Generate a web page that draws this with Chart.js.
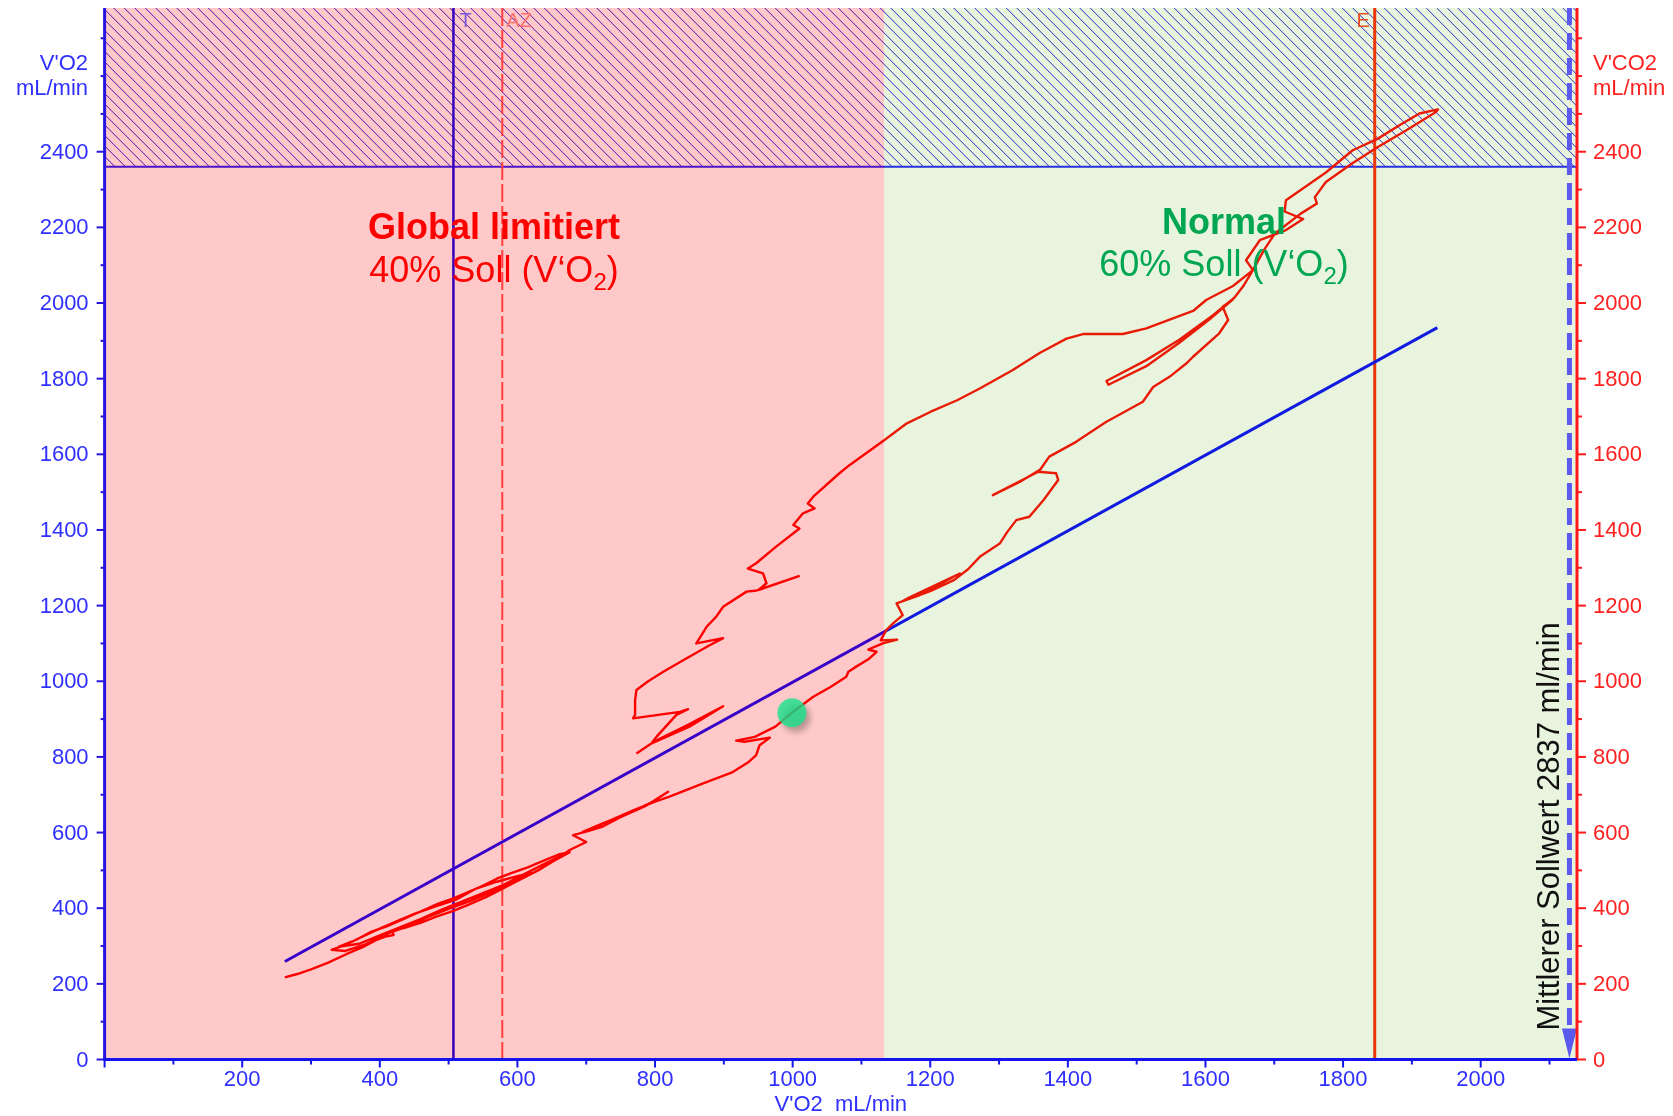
<!DOCTYPE html>
<html>
<head>
<meta charset="utf-8">
<script src="https://cdn.jsdelivr.net/npm/chart.js@4.4.1/dist/chart.umd.min.js"></script>
<style>
  html, body { margin: 0; padding: 0; background: #ffffff; }
  canvas { display: block; }
</style>
</head>
<body>
<canvas id="c" width="1673" height="1116"></canvas>
<script>
const FONT = "'Liberation Sans', Arial, Helvetica, sans-serif";

// Breath-by-breath trace, V'O2 (x) against V'CO2 (y), mL/min
// rest / warm-up band
const warmupVO2  = [262,280,300,325,352,375,395,410,420,418,436,460,482,507,530,555,579,605,630,652,676,
                    660,640,615,590,570,548,525,507,485,460,435,410,388,365,345,330,
                    350,380,410,440,470,500,530,560,590,620,
                    600,570,540,510,480,450,420,390,360,340,
                    370,400,430,460,490,520,550,580,610,640,665,676];
const warmupVCO2 = [217,226,238,256,279,297,316,326,329,340,348,362,378,393,410,430,452,477,500,524,548,
                    542,527,508,492,478,458,440,426,412,392,372,352,338,316,300,290,
                    287,305,332,352,377,398,418,441,466,493,
                    485,470,452,422,404,385,362,338,312,298,
                    306,328,350,372,396,418,440,462,490,518,540,554];
// loaded phase up to peak
const loadVO2  = [700,681,705,724,749,788,819,795,760,724,695,730,770,800,821,870,913,935,947,952,967,930,918,945,975,999,
                  1030,1055,1078,1081,1090,1110,1122,1110,1131,1152,1128,1136,1146,1160,
                  1151,1185,1243,1210,1170,1160,1200,1235,1255,1272,1301,1312,1325,1344,1365,1386,1383,1357,1291,1330,1360,
                  1373,1412,1456,1480,1509,1524,1550,1572,1582,1620,1633,1625,1640,
                  1606,1562,1514,1459,1456,1514,1562,1611,1642,1655,1669,
                  1685,1701,1739,1762,1759,1775,1813,1850,1892,1935,1938];
const loadVCO2 = [575,593,605,616,640,672,708,680,650,624,602,628,660,682,695,730,760,785,805,831,851,840,843,853,880,917,
                  959,985,1012,1025,1036,1058,1078,1084,1100,1110,1108,1135,1153,1175,
                  1206,1228,1285,1256,1222,1212,1238,1268,1296,1329,1364,1395,1426,1435,1480,1532,1550,1554,1492,1527,1560,
                  1594,1633,1686,1710,1739,1778,1808,1840,1858,1920,1955,1990,2010,
                  1957,1895,1833,1784,1794,1849,1903,1968,2014,2045,2087,
                  2140,2184,2237,2263,2280,2320,2369,2412,2457,2505,2512];
// recovery
const recoveryVO2  = [1911,1882,1850,1814,1775,1717,1715,1742,1717,1679,1659,1669,1640,1601,1582,1546,1514,1480,1422,1398,
                      1359,1320,1272,1239,1200,1166,1133,1083,1068,1030,1022,1032,1015,1001,1010,976,947,935,957,962,950,
                      1009,948,933,899,889,875,860,899,878,846,812,790,773,771,771,768,836,848,831,802,795,850,899,845,800,773];
const recoveryVCO2 = [2501,2470,2434,2404,2345,2272,2242,2222,2193,2166,2113,2087,2045,2008,1979,1955,1933,1918,1918,1906,
                      1868,1823,1774,1743,1712,1682,1637,1572,1550,1488,1470,1457,1444,1413,1404,1356,1312,1298,1285,1259,1241,
                      1278,1240,1237,1197,1171,1144,1100,1114,1094,1061,1025,1000,977,950,911,902,919,926,911,853,836,880,934,882,842,809];

// RER = 1 reference line
const refVO2  = [262, 1937];
const refVCO2 = [259, 1935];

// marked point on the trace
const markVO2  = [999];
const markVCO2 = [917];

// zones and events
const zoneSplitVO2 = 1133;          // limited / normal boundary
const hatchFromVCO2 = 2360;         // hatched band from here up
const eventNames = ['T', 'AZ', 'E'];
const eventVO2   = [507, 578, 1846];
const sollwertVO2 = 2129;

// axes
const xRange = [0, 2140];
const yRange = [0, 2780];
const xTickLabels = [200, 400, 600, 800, 1000, 1200, 1400, 1600, 1800, 2000];
const yTickLabels = [0, 200, 400, 600, 800, 1000, 1200, 1400, 1600, 1800, 2000, 2200, 2400];
const minorStep = 100;

const traceVO2  = warmupVO2.concat(loadVO2, recoveryVO2);
const traceVCO2 = warmupVCO2.concat(loadVCO2, recoveryVCO2);
const toPoints = (xs, ys) => xs.map((v, i) => ({ x: v, y: ys[i] }));

function line(ctx, x1, y1, x2, y2) {
  ctx.beginPath(); ctx.moveTo(x1, y1); ctx.lineTo(x2, y2); ctx.stroke();
}

function subText(ctx, cx, base, main, sub, tail, size, color) {
  const big = size + 'px ' + FONT;
  const small = Math.round(size * 0.66) + 'px ' + FONT;
  ctx.font = big;
  const w1 = ctx.measureText(main).width;
  const w3 = ctx.measureText(tail).width;
  ctx.font = small;
  const w2 = ctx.measureText(sub).width;
  const x0 = cx - (w1 + w2 + w3) / 2;
  ctx.fillStyle = color;
  ctx.textAlign = 'left';
  ctx.textBaseline = 'alphabetic';
  ctx.font = big;   ctx.fillText(main, x0, base);
  ctx.font = small; ctx.fillText(sub, x0 + w1, base + size * 0.22);
  ctx.font = big;   ctx.fillText(tail, x0 + w1 + w2, base);
}

const decor = {
  id: 'cpetDecor',
  beforeDatasetsDraw(chart) {
    const { ctx, chartArea: a, scales: { x, y } } = chart;
    ctx.save();
    ctx.beginPath(); ctx.rect(a.left, a.top, a.right - a.left, a.bottom - a.top); ctx.clip();

    // hatched band
    const hy = y.getPixelForValue(hatchFromVCO2);
    const h = hy - a.top;
    ctx.save();
    ctx.beginPath(); ctx.rect(a.left, a.top, a.right - a.left, h); ctx.clip();
    ctx.strokeStyle = '#1818e0'; ctx.lineWidth = 1;
    ctx.beginPath();
    for (let k = a.left - h; k < a.right + 12; k += 10.5) { ctx.moveTo(k, a.top); ctx.lineTo(k + h, hy); }
    ctx.stroke();
    ctx.restore();
    ctx.strokeStyle = '#1a1aff'; ctx.lineWidth = 2;
    line(ctx, a.left, hy, a.right, hy);

    // event lines
    const styles = [
      { c: '#0000f0', w: 2.5, d: [] },
      { c: '#ff5050', w: 2,   d: [18, 4] },
      { c: '#ff2200', w: 3,   d: [] }
    ];
    eventVO2.forEach((v, i) => {
      const px = x.getPixelForValue(v);
      ctx.strokeStyle = styles[i].c; ctx.lineWidth = styles[i].w; ctx.setLineDash(styles[i].d);
      line(ctx, px, a.top, px, a.bottom);
    });
    ctx.setLineDash([]);
    ctx.restore();
  },
  beforeDatasetDraw(chart, args) {
    if (args.index !== 0) return;
    const { ctx, chartArea: a, scales: { x, y } } = chart;
    const sx = x.getPixelForValue(zoneSplitVO2);
    ctx.save();
    // zone tints
    ctx.fillStyle = 'rgba(255,0,0,0.21)';
    ctx.fillRect(a.left, a.top, sx - a.left, a.bottom - a.top);
    ctx.fillStyle = 'rgba(110,180,40,0.15)';
    ctx.fillRect(sx, a.top, a.right - sx, a.bottom - a.top);

    // event labels
    ctx.font = '20px ' + FONT;
    ctx.textBaseline = 'alphabetic';
    const ex = eventVO2.map(v => x.getPixelForValue(v));
    ctx.fillStyle = '#7a5ad8'; ctx.textAlign = 'left';  ctx.fillText(eventNames[0], ex[0] + 6, 27);
    ctx.fillStyle = '#ff7070'; ctx.textAlign = 'left';  ctx.fillText(eventNames[1], ex[1] + 4, 27);
    ctx.fillStyle = '#e8502a'; ctx.textAlign = 'right'; ctx.fillText(eventNames[2], ex[2] - 5, 27);

    // zone captions
    ctx.textAlign = 'center';
    ctx.fillStyle = '#ff0000';
    ctx.font = 'bold 36px ' + FONT;
    ctx.fillText('Global limitiert', 494, 239);
    subText(ctx, 494, 282, '40% Soll (V\u2018O', '2', ')', 36, '#ff0000');
    ctx.textAlign = 'center';
    ctx.fillStyle = '#00a651';
    ctx.font = 'bold 36px ' + FONT;
    ctx.fillText('Normal', 1224, 234);
    subText(ctx, 1224, 276, '60% Soll (V\u2018O', '2', ')', 36, '#00a651');

    // predicted value marker
    const dx = x.getPixelForValue(sollwertVO2);
    ctx.strokeStyle = '#5a5af0'; ctx.lineWidth = 5; ctx.setLineDash([17, 8]);
    line(ctx, dx, a.top, dx, a.bottom - 30);
    ctx.setLineDash([]);
    ctx.fillStyle = '#5a5af0';
    ctx.beginPath();
    ctx.moveTo(dx - 7.5, a.bottom - 31);
    ctx.lineTo(dx + 7.5, a.bottom - 31);
    ctx.lineTo(dx, a.bottom - 1);
    ctx.closePath(); ctx.fill();
    ctx.save();
    ctx.translate(dx - 10, a.bottom - 29);
    ctx.rotate(-Math.PI / 2);
    ctx.fillStyle = '#111111';
    ctx.font = '31px ' + FONT;
    ctx.textAlign = 'left'; ctx.textBaseline = 'alphabetic';
    ctx.fillText('Mittlerer Sollwert 2837 ml/min', 0, 0);
    ctx.restore();
    ctx.restore();

    // soft shadow under the marker point
    ctx.save();
    ctx.shadowColor = 'rgba(0,0,0,0.35)';
    ctx.shadowBlur = 6;
    ctx.shadowOffsetX = 4;
    ctx.shadowOffsetY = 5;
  },
  afterDatasetDraw(chart, args) {
    if (args.index === 0) chart.ctx.restore();
  },
  afterDatasetsDraw(chart) {
    const { ctx, chartArea: a, scales: { x, y, y2 } } = chart;
    ctx.save();
    // left axis
    ctx.strokeStyle = '#2814dc'; ctx.lineWidth = 2;
    for (let v = yRange[0]; v <= yRange[1]; v += minorStep) {
      const py = y.getPixelForValue(v);
      line(ctx, a.left, py, a.left - (yTickLabels.includes(v) ? 8 : 4), py);
    }
    ctx.lineWidth = 3; line(ctx, a.left, a.top, a.left, a.bottom);
    // right axis
    ctx.strokeStyle = '#ff1a1a'; ctx.lineWidth = 2;
    for (let v = yRange[0]; v <= yRange[1]; v += minorStep) {
      const py = y2.getPixelForValue(v);
      line(ctx, a.right, py, a.right + (yTickLabels.includes(v) ? 9 : 5), py);
    }
    ctx.lineWidth = 3; line(ctx, a.right, a.top, a.right, a.bottom);
    // bottom axis
    ctx.strokeStyle = '#1414f0'; ctx.lineWidth = 2;
    for (let v = xRange[0]; v <= xRange[1]; v += minorStep) {
      const px = x.getPixelForValue(v);
      line(ctx, px, a.bottom, px, a.bottom + (v % 200 === 0 ? 8 : 5));
    }
    ctx.lineWidth = 3; line(ctx, a.left - 1.5, a.bottom, a.right, a.bottom);

    // vertical tick labels
    ctx.font = '22px ' + FONT;
    ctx.textBaseline = 'middle';
    yTickLabels.forEach(v => {
      ctx.fillStyle = '#2f2fff'; ctx.textAlign = 'right';
      ctx.fillText(String(v), a.left - 16, y.getPixelForValue(v) + 1);
      ctx.fillStyle = '#ff2020'; ctx.textAlign = 'left';
      ctx.fillText(String(v), a.right + 16, y2.getPixelForValue(v) + 1);
    });

    // axis titles
    ctx.textBaseline = 'alphabetic';
    ctx.fillStyle = '#2f2fff'; ctx.textAlign = 'right';
    ctx.fillText("V'O2", 88, 70);
    ctx.fillText('mL/min', 88, 95);
    ctx.fillStyle = '#ff2020'; ctx.textAlign = 'left';
    ctx.fillText("V'CO2", 1593, 70);
    ctx.fillText('mL/min', 1593, 95);
    ctx.fillStyle = '#2f2fff'; ctx.textAlign = 'center';
    ctx.fillText("V'O2  mL/min", (a.left + a.right) / 2, 1111);
    ctx.restore();
  }
};

Chart.defaults.font.family = FONT;

// fixed box sizes so the plot area sits where the axes are drawn
const fixBox = (w, h) => s => {
  if (w !== null) s.width = w;
  if (h !== null) s.height = h;
  s.paddingTop = 0; s.paddingBottom = 0; s.paddingLeft = 0; s.paddingRight = 0;
};

new Chart(document.getElementById('c'), {
  type: 'scatter',
  data: {
    datasets: [
      {
        label: 'marker',
        data: toPoints(markVO2, markVCO2),
        pointRadius: 14.5,
        pointBackgroundColor: 'rgba(20,228,140,0.78)',
        pointBorderWidth: 0,
        showLine: false
      },
      {
        label: "V'CO2",
        data: toPoints(traceVO2, traceVCO2),
        showLine: true,
        borderColor: '#ff0000',
        borderWidth: 2.4,
        pointRadius: 0,
        tension: 0,
        borderJoinStyle: 'round'
      },
      {
        label: 'RER 1',
        data: toPoints(refVO2, refVCO2),
        showLine: true,
        borderColor: '#0000ff',
        borderWidth: 3,
        pointRadius: 0
      }
    ]
  },
  options: {
    responsive: false,
    animation: false,
    layout: { autoPadding: false, padding: { top: 8, left: 0, right: 0, bottom: 0 } },
    plugins: { legend: { display: false }, tooltip: { enabled: false } },
    scales: {
      x: {
        type: 'linear', position: 'bottom',
        min: xRange[0], max: xRange[1],
        grid: { display: false, drawTicks: false },
        border: { display: false },
        ticks: {
          stepSize: 200, includeBounds: false, padding: 7, autoSkip: false, maxRotation: 0,
          color: '#2f2fff', font: { size: 22 },
          callback: v => (xTickLabels.includes(v) ? String(v) : '')
        },
        afterFit: fixBox(null, 56.5)
      },
      y: {
        type: 'linear', position: 'left',
        min: yRange[0], max: yRange[1],
        grid: { display: false, drawTicks: false },
        border: { display: false },
        ticks: { display: false },
        afterFit: fixBox(104.6, null)
      },
      y2: {
        type: 'linear', position: 'right', axis: 'y',
        min: yRange[0], max: yRange[1],
        grid: { display: false, drawTicks: false },
        border: { display: false },
        ticks: { display: false },
        afterFit: fixBox(96, null)
      }
    }
  },
  plugins: [decor]
});
</script>
</body>
</html>
